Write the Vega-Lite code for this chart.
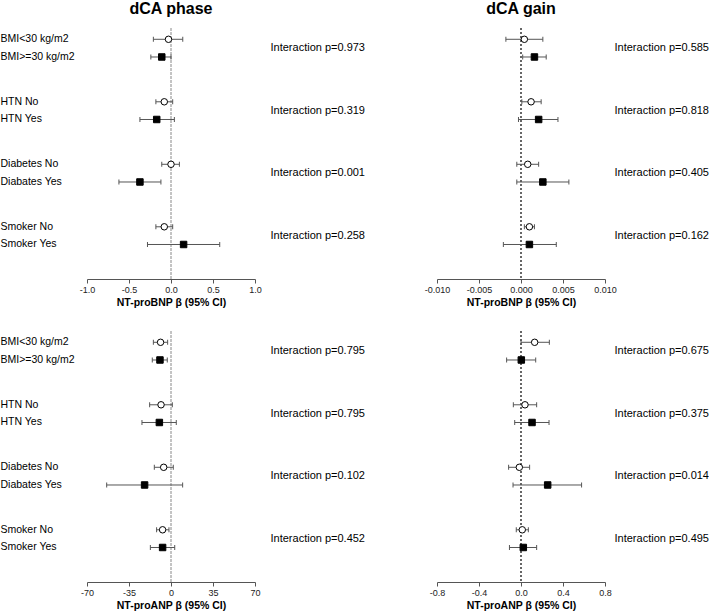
{
"$schema":"https://vega.github.io/schema/vega-lite/v6.json",
"padding":{"left":0,"top":0,"right":0,"bottom":0},
"config":{"view":{"stroke":null},"font":"Liberation Sans","axis":{"grid":false}},
"data":{"values":[
{"panel":"TL","pair":"BMI<30 kg/m2|BMI>=30 kg/m2","level":"A","est":-0.03,"lo":-0.21,"hi":0.14,"ptext":"BMI|Interaction p=0.973"},
{"panel":"TL","pair":"BMI<30 kg/m2|BMI>=30 kg/m2","level":"B","est":-0.11,"lo":-0.24,"hi":0.0,"ptext":"BMI|Interaction p=0.973"},
{"panel":"TL","pair":"HTN No|HTN Yes","level":"A","est":-0.08,"lo":-0.18,"hi":0.02,"ptext":"HTN|Interaction p=0.319"},
{"panel":"TL","pair":"HTN No|HTN Yes","level":"B","est":-0.17,"lo":-0.37,"hi":0.04,"ptext":"HTN|Interaction p=0.319"},
{"panel":"TL","pair":"Diabetes No|Diabates Yes","level":"A","est":0.0,"lo":-0.11,"hi":0.10,"ptext":"DM|Interaction p=0.001"},
{"panel":"TL","pair":"Diabetes No|Diabates Yes","level":"B","est":-0.37,"lo":-0.62,"hi":-0.12,"ptext":"DM|Interaction p=0.001"},
{"panel":"TL","pair":"Smoker No|Smoker Yes","level":"A","est":-0.08,"lo":-0.18,"hi":0.02,"ptext":"SM|Interaction p=0.258"},
{"panel":"TL","pair":"Smoker No|Smoker Yes","level":"B","est":0.15,"lo":-0.28,"hi":0.58,"ptext":"SM|Interaction p=0.258"},
{"panel":"TR","pair":"BMI<30 kg/m2|BMI>=30 kg/m2","level":"A","est":0.0004,"lo":-0.0018,"hi":0.0026,"ptext":"BMI|Interaction p=0.585"},
{"panel":"TR","pair":"BMI<30 kg/m2|BMI>=30 kg/m2","level":"B","est":0.0016,"lo":0.0002,"hi":0.0030,"ptext":"BMI|Interaction p=0.585"},
{"panel":"TR","pair":"HTN No|HTN Yes","level":"A","est":0.0012,"lo":0.0001,"hi":0.0024,"ptext":"HTN|Interaction p=0.818"},
{"panel":"TR","pair":"HTN No|HTN Yes","level":"B","est":0.0021,"lo":-0.0003,"hi":0.0044,"ptext":"HTN|Interaction p=0.818"},
{"panel":"TR","pair":"Diabetes No|Diabates Yes","level":"A","est":0.0008,"lo":-0.0005,"hi":0.0021,"ptext":"DM|Interaction p=0.405"},
{"panel":"TR","pair":"Diabetes No|Diabates Yes","level":"B","est":0.0026,"lo":-0.0005,"hi":0.0057,"ptext":"DM|Interaction p=0.405"},
{"panel":"TR","pair":"Smoker No|Smoker Yes","level":"A","est":0.0010,"lo":0.0004,"hi":0.0016,"ptext":"SM|Interaction p=0.162"},
{"panel":"TR","pair":"Smoker No|Smoker Yes","level":"B","est":0.0010,"lo":-0.0021,"hi":0.0042,"ptext":"SM|Interaction p=0.162"},
{"panel":"BL","pair":"BMI<30 kg/m2|BMI>=30 kg/m2","level":"A","est":-8.7,"lo":-14.7,"hi":-2.8,"ptext":"BMI|Interaction p=0.795"},
{"panel":"BL","pair":"BMI<30 kg/m2|BMI>=30 kg/m2","level":"B","est":-9.2,"lo":-15.6,"hi":-3.1,"ptext":"BMI|Interaction p=0.795"},
{"panel":"BL","pair":"HTN No|HTN Yes","level":"A","est":-8.3,"lo":-17.8,"hi":1.1,"ptext":"HTN|Interaction p=0.795"},
{"panel":"BL","pair":"HTN No|HTN Yes","level":"B","est":-9.7,"lo":-24.2,"hi":4.4,"ptext":"HTN|Interaction p=0.795"},
{"panel":"BL","pair":"Diabetes No|Diabates Yes","level":"A","est":-6.1,"lo":-13.9,"hi":1.9,"ptext":"DM|Interaction p=0.102"},
{"panel":"BL","pair":"Diabetes No|Diabates Yes","level":"B","est":-22.0,"lo":-53.6,"hi":9.7,"ptext":"DM|Interaction p=0.102"},
{"panel":"BL","pair":"Smoker No|Smoker Yes","level":"A","est":-7.0,"lo":-12.0,"hi":-1.7,"ptext":"SM|Interaction p=0.452"},
{"panel":"BL","pair":"Smoker No|Smoker Yes","level":"B","est":-7.0,"lo":-17.2,"hi":3.1,"ptext":"SM|Interaction p=0.452"},
{"panel":"BR","pair":"BMI<30 kg/m2|BMI>=30 kg/m2","level":"A","est":0.13,"lo":0.0,"hi":0.27,"ptext":"BMI|Interaction p=0.675"},
{"panel":"BR","pair":"BMI<30 kg/m2|BMI>=30 kg/m2","level":"B","est":0.003,"lo":-0.137,"hi":0.14,"ptext":"BMI|Interaction p=0.675"},
{"panel":"BR","pair":"HTN No|HTN Yes","level":"A","est":0.038,"lo":-0.073,"hi":0.149,"ptext":"HTN|Interaction p=0.375"},
{"panel":"BR","pair":"HTN No|HTN Yes","level":"B","est":0.105,"lo":-0.06,"hi":0.267,"ptext":"HTN|Interaction p=0.375"},
{"panel":"BR","pair":"Diabetes No|Diabates Yes","level":"A","est":-0.016,"lo":-0.118,"hi":0.082,"ptext":"DM|Interaction p=0.014"},
{"panel":"BR","pair":"Diabetes No|Diabates Yes","level":"B","est":0.254,"lo":-0.076,"hi":0.577,"ptext":"DM|Interaction p=0.014"},
{"panel":"BR","pair":"Smoker No|Smoker Yes","level":"A","est":0.012,"lo":-0.045,"hi":0.07,"ptext":"SM|Interaction p=0.495"},
{"panel":"BR","pair":"Smoker No|Smoker Yes","level":"B","est":0.022,"lo":-0.11,"hi":0.149,"ptext":"SM|Interaction p=0.495"}
]},
"columns":2,
"spacing":{"row":52,"column":182},
"bounds":"flush",
"concat":[
{
"width":168,"height":251,
"title":{"text":"dCA phase","fontSize":16,"fontWeight":"bold","anchor":"middle","offset":10.5,"color":"#000"},
"transform":[{"filter":"datum.panel==='TL'"}],
"layer":[
{"mark":{"type":"rule","stroke":"#c4c4c4","color":"#c4c4c4","strokeWidth":1.6,"strokeDash":[3,1]},
 "encoding":{"x":{"datum":0,"type":"quantitative","scale":{"domain":[-1,1]},
  "axis":{"title":"NT-proBNP β (95% CI)","values":[-1,-0.75,-0.5,-0.25,0,0.25,0.5,0.75,1],"labelExpr":"abs(datum.value/0.5-round(datum.value/0.5))<1e-6 ? replace(format(datum.value,'.1f'),'\u2212','-') : ''","labelFlush":false,"labelOverlap":false,"tickSize":4,"tickColor":"#555","domainColor":"#555","labelFontSize":9,"labelColor":"#222","labelPadding":2,"titleFontSize":10.5,"titleFontWeight":"bold","titleColor":"#000","titlePadding":3}}}},
{"encoding":{
  "y":{"field":"pair","type":"nominal","sort":null,"scale":{"type":"band","paddingInner":0.5,"paddingOuter":0.258,"align":0.14},
   "axis":{"title":null,"orient":"left","labelExpr":"split(datum.value,'|')","labelAlign":"left","labelBaseline":"middle","labelPadding":87,"labelOffset":-8.85,"ticks":false,"tickSize":0,"domain":false,"labelFontSize":10.5,"labelLineHeight":17.7,"labelColor":"#000","labelLimit":0}},
  "yOffset":{"field":"level","type":"nominal","sort":null,"scale":{"type":"point","padding":0.383}}},
 "layer":[
  {"mark":{"type":"rule","color":"#555","strokeWidth":1},"encoding":{"x":{"field":"lo","type":"quantitative"},"x2":{"field":"hi"}}},
  {"mark":{"type":"tick","color":"#555","size":5,"thickness":1,"opacity":1},"encoding":{"x":{"field":"lo","type":"quantitative"}}},
  {"mark":{"type":"tick","color":"#555","size":5,"thickness":1,"opacity":1},"encoding":{"x":{"field":"hi","type":"quantitative"}}},
  {"mark":{"type":"point","filled":true,"stroke":"#000","strokeWidth":1,"size":42,"opacity":1},
   "encoding":{"x":{"field":"est","type":"quantitative"},
    "shape":{"field":"level","type":"nominal","scale":{"domain":["A","B"],"range":["circle","square"]},"legend":null},
    "fill":{"field":"level","type":"nominal","scale":{"domain":["A","B"],"range":["#ffffff","#000000"]},"legend":null}}}
 ]},
{"mark":{"type":"point","opacity":0},
 "encoding":{"y":{"field":"ptext","type":"nominal","sort":null,"scale":{"type":"band","paddingInner":0.5,"paddingOuter":0.258,"align":0.14},
  "axis":{"title":null,"orient":"right","labelExpr":"split(datum.value,'|')[1]","labelAlign":"left","labelBaseline":"middle","labelPadding":15,"ticks":false,"tickSize":0,"domain":false,"labelFontSize":11,"labelColor":"#000","labelLimit":0}}}}
],
"resolve":{"scale":{"y":"independent"}}
},
{
"width":168,"height":251,
"title":{"text":"dCA gain","fontSize":16,"fontWeight":"bold","anchor":"middle","offset":10.5,"color":"#000"},
"transform":[{"filter":"datum.panel==='TR'"}],
"layer":[
{"mark":{"type":"rule","stroke":"#666","color":"#666","strokeWidth":1,"strokeDash":[2,2]},
 "encoding":{"x":{"datum":0,"type":"quantitative","scale":{"domain":[-0.01,0.01]},
  "axis":{"title":"NT-proBNP β (95% CI)","values":[-0.01,-0.0075,-0.005,-0.0025,0,0.0025,0.005,0.0075,0.01],"labelExpr":"abs(datum.value/0.005-round(datum.value/0.005))<1e-6 ? replace(format(datum.value,'.3f'),'\u2212','-') : ''","labelFlush":false,"labelOverlap":false,"tickSize":4,"tickColor":"#555","domainColor":"#555","labelFontSize":9,"labelColor":"#222","labelPadding":2,"titleFontSize":10.5,"titleFontWeight":"bold","titleColor":"#000","titlePadding":3}}}},
{"encoding":{
  "y":{"field":"pair","type":"nominal","sort":null,"scale":{"type":"band","paddingInner":0.5,"paddingOuter":0.258,"align":0.14},"axis":null},
  "yOffset":{"field":"level","type":"nominal","sort":null,"scale":{"type":"point","padding":0.383}}},
 "layer":[
  {"mark":{"type":"rule","color":"#555","strokeWidth":1},"encoding":{"x":{"field":"lo","type":"quantitative"},"x2":{"field":"hi"}}},
  {"mark":{"type":"tick","color":"#555","size":5,"thickness":1,"opacity":1},"encoding":{"x":{"field":"lo","type":"quantitative"}}},
  {"mark":{"type":"tick","color":"#555","size":5,"thickness":1,"opacity":1},"encoding":{"x":{"field":"hi","type":"quantitative"}}},
  {"mark":{"type":"point","filled":true,"stroke":"#000","strokeWidth":1,"size":42,"opacity":1},
   "encoding":{"x":{"field":"est","type":"quantitative"},
    "shape":{"field":"level","type":"nominal","scale":{"domain":["A","B"],"range":["circle","square"]},"legend":null},
    "fill":{"field":"level","type":"nominal","scale":{"domain":["A","B"],"range":["#ffffff","#000000"]},"legend":null}}}
 ]},
{"mark":{"type":"point","opacity":0},
 "encoding":{"y":{"field":"ptext","type":"nominal","sort":null,"scale":{"type":"band","paddingInner":0.5,"paddingOuter":0.258,"align":0.14},
  "axis":{"title":null,"orient":"right","labelExpr":"split(datum.value,'|')[1]","labelAlign":"left","labelBaseline":"middle","labelPadding":9,"ticks":false,"tickSize":0,"domain":false,"labelFontSize":11,"labelColor":"#000","labelLimit":0}}}}
],
"resolve":{"scale":{"y":"independent"}}
},
{
"width":168,"height":251,
"transform":[{"filter":"datum.panel==='BL'"}],
"layer":[
{"mark":{"type":"rule","stroke":"#c4c4c4","color":"#c4c4c4","strokeWidth":1.6,"strokeDash":[3,1]},
 "encoding":{"x":{"datum":0,"type":"quantitative","scale":{"domain":[-70,70]},
  "axis":{"title":"NT-proANP β (95% CI)","values":[-70,-52.5,-35,-17.5,0,17.5,35,52.5,70],"labelExpr":"abs(datum.value/35-round(datum.value/35))<1e-6 ? replace(format(datum.value,'d'),'\u2212','-') : ''","labelFlush":false,"labelOverlap":false,"tickSize":4,"tickColor":"#555","domainColor":"#555","labelFontSize":9,"labelColor":"#222","labelPadding":2,"titleFontSize":10.5,"titleFontWeight":"bold","titleColor":"#000","titlePadding":3}}}},
{"encoding":{
  "y":{"field":"pair","type":"nominal","sort":null,"scale":{"type":"band","paddingInner":0.5,"paddingOuter":0.258,"align":0.14},
   "axis":{"title":null,"orient":"left","labelExpr":"split(datum.value,'|')","labelAlign":"left","labelBaseline":"middle","labelPadding":87,"labelOffset":-8.85,"ticks":false,"tickSize":0,"domain":false,"labelFontSize":10.5,"labelLineHeight":17.7,"labelColor":"#000","labelLimit":0}},
  "yOffset":{"field":"level","type":"nominal","sort":null,"scale":{"type":"point","padding":0.383}}},
 "layer":[
  {"mark":{"type":"rule","color":"#555","strokeWidth":1},"encoding":{"x":{"field":"lo","type":"quantitative"},"x2":{"field":"hi"}}},
  {"mark":{"type":"tick","color":"#555","size":5,"thickness":1,"opacity":1},"encoding":{"x":{"field":"lo","type":"quantitative"}}},
  {"mark":{"type":"tick","color":"#555","size":5,"thickness":1,"opacity":1},"encoding":{"x":{"field":"hi","type":"quantitative"}}},
  {"mark":{"type":"point","filled":true,"stroke":"#000","strokeWidth":1,"size":42,"opacity":1},
   "encoding":{"x":{"field":"est","type":"quantitative"},
    "shape":{"field":"level","type":"nominal","scale":{"domain":["A","B"],"range":["circle","square"]},"legend":null},
    "fill":{"field":"level","type":"nominal","scale":{"domain":["A","B"],"range":["#ffffff","#000000"]},"legend":null}}}
 ]},
{"mark":{"type":"point","opacity":0},
 "encoding":{"y":{"field":"ptext","type":"nominal","sort":null,"scale":{"type":"band","paddingInner":0.5,"paddingOuter":0.258,"align":0.14},
  "axis":{"title":null,"orient":"right","labelExpr":"split(datum.value,'|')[1]","labelAlign":"left","labelBaseline":"middle","labelPadding":15,"ticks":false,"tickSize":0,"domain":false,"labelFontSize":11,"labelColor":"#000","labelLimit":0}}}}
],
"resolve":{"scale":{"y":"independent"}}
},
{
"width":168,"height":251,
"transform":[{"filter":"datum.panel==='BR'"}],
"layer":[
{"mark":{"type":"rule","stroke":"#666","color":"#666","strokeWidth":1,"strokeDash":[2,2]},
 "encoding":{"x":{"datum":0,"type":"quantitative","scale":{"domain":[-0.8,0.8]},
  "axis":{"title":"NT-proANP β (95% CI)","values":[-0.8,-0.6,-0.4,-0.2,0,0.2,0.4,0.6,0.8],"labelExpr":"abs(datum.value/0.4-round(datum.value/0.4))<1e-6 ? replace(format(datum.value,'.1f'),'\u2212','-') : ''","labelFlush":false,"labelOverlap":false,"tickSize":4,"tickColor":"#555","domainColor":"#555","labelFontSize":9,"labelColor":"#222","labelPadding":2,"titleFontSize":10.5,"titleFontWeight":"bold","titleColor":"#000","titlePadding":3}}}},
{"encoding":{
  "y":{"field":"pair","type":"nominal","sort":null,"scale":{"type":"band","paddingInner":0.5,"paddingOuter":0.258,"align":0.14},"axis":null},
  "yOffset":{"field":"level","type":"nominal","sort":null,"scale":{"type":"point","padding":0.383}}},
 "layer":[
  {"mark":{"type":"rule","color":"#555","strokeWidth":1},"encoding":{"x":{"field":"lo","type":"quantitative"},"x2":{"field":"hi"}}},
  {"mark":{"type":"tick","color":"#555","size":5,"thickness":1,"opacity":1},"encoding":{"x":{"field":"lo","type":"quantitative"}}},
  {"mark":{"type":"tick","color":"#555","size":5,"thickness":1,"opacity":1},"encoding":{"x":{"field":"hi","type":"quantitative"}}},
  {"mark":{"type":"point","filled":true,"stroke":"#000","strokeWidth":1,"size":42,"opacity":1},
   "encoding":{"x":{"field":"est","type":"quantitative"},
    "shape":{"field":"level","type":"nominal","scale":{"domain":["A","B"],"range":["circle","square"]},"legend":null},
    "fill":{"field":"level","type":"nominal","scale":{"domain":["A","B"],"range":["#ffffff","#000000"]},"legend":null}}}
 ]},
{"mark":{"type":"point","opacity":0},
 "encoding":{"y":{"field":"ptext","type":"nominal","sort":null,"scale":{"type":"band","paddingInner":0.5,"paddingOuter":0.258,"align":0.14},
  "axis":{"title":null,"orient":"right","labelExpr":"split(datum.value,'|')[1]","labelAlign":"left","labelBaseline":"middle","labelPadding":9,"ticks":false,"tickSize":0,"domain":false,"labelFontSize":11,"labelColor":"#000","labelLimit":0}}}}
],
"resolve":{"scale":{"y":"independent"}}
}
]
}
